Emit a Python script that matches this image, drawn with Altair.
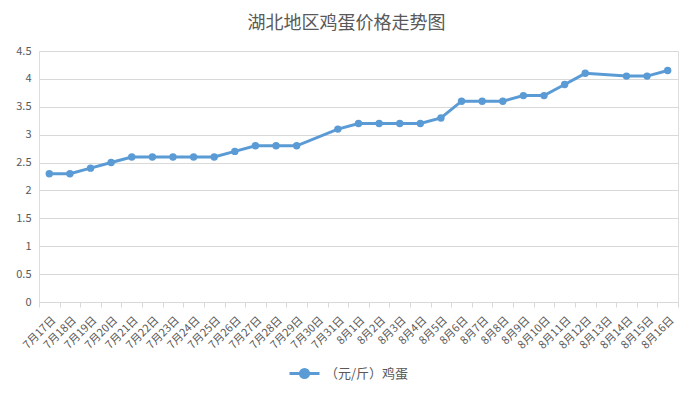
import altair as alt
import pandas as pd

dates = ["7月17日", "7月18日", "7月19日", "7月20日", "7月21日", "7月22日", "7月23日",
         "7月24日", "7月25日", "7月26日", "7月27日", "7月28日", "7月29日", "7月30日",
         "7月31日", "8月1日", "8月2日", "8月3日", "8月4日", "8月5日", "8月6日", "8月7日",
         "8月8日", "8月9日", "8月10日", "8月11日", "8月12日", "8月13日", "8月14日",
         "8月15日", "8月16日"]
prices = [2.3, 2.3, 2.4, 2.5, 2.6, 2.6, 2.6, 2.6, 2.6, 2.7, 2.8, 2.8, 2.8, None,
          3.1, 3.2, 3.2, 3.2, 3.2, 3.3, 3.6, 3.6, 3.6, 3.7, 3.7, 3.9, 4.1, None,
          4.05, 4.05, 4.15]
y_ticks = [0, 0.5, 1, 1.5, 2, 2.5, 3, 3.5, 4, 4.5]
series_name = "（元/斤）鸡蛋"

df = pd.DataFrame({"date": dates, "price": prices, "series": series_name})

FONT = "Noto Sans CJK SC"
GRAY = "#595959"
BLUE = "#5B9BD5"

x = alt.X("date:N", sort=dates, title=None,
          scale=alt.Scale(domain=dates, paddingInner=0, paddingOuter=0),
          axis=alt.Axis(labelAngle=-45, labelFontSize=11, labelColor=GRAY, labelFont=FONT,
                        domainColor="#D9D9D9", tickColor="#D9D9D9", tickSize=5,
                        tickBand="extent", labelPadding=7, grid=False))
y = alt.Y("price:Q", title=None,
          scale=alt.Scale(domain=[0, 4.5], nice=False),
          axis=alt.Axis(values=y_ticks, format="~g", labelFontSize=11, labelColor=GRAY,
                        labelFont=FONT, domain=False, ticks=False, labelPadding=8,
                        gridColor="#D9D9D9", gridWidth=1))

base = alt.Chart(df).transform_filter("isValid(datum.price)")

line = base.mark_line(color=BLUE, strokeWidth=3).encode(x=x, y=y)
pts = base.mark_point(filled=True, size=55, opacity=1).encode(
    x=x, y=y,
    color=alt.Color("series:N", scale=alt.Scale(range=[BLUE]), title=None,
                    legend=alt.Legend(orient="none", legendX=249, legendY=306,
                                      symbolType="M-1,0L1,0M-0.27,0A0.27,0.27,0,1,1,0.27,0A0.27,0.27,0,1,1,-0.27,0Z",
                                      symbolSize=900, symbolStrokeWidth=3,
                                      symbolStrokeColor=BLUE, symbolFillColor=BLUE,
                                      labelFontSize=13, labelColor=GRAY, labelFont=FONT,
                                      padding=0, labelOffset=4)))

chart = alt.layer(line, pts).properties(
    width=639, height=251,
    padding={"left": 31, "top": 43, "right": 5, "bottom": 84},
    autosize=alt.AutoSizeParams(type="none"),
    title=alt.TitleParams("湖北地区鸡蛋价格走势图", fontSize=18, font=FONT, color=GRAY,
                          fontWeight="normal", dx=-12, offset=12, anchor="middle"),
).configure_view(stroke=None).configure(background="white")

chart.save("out.html", embed_options={"renderer": "svg", "actions": False})
